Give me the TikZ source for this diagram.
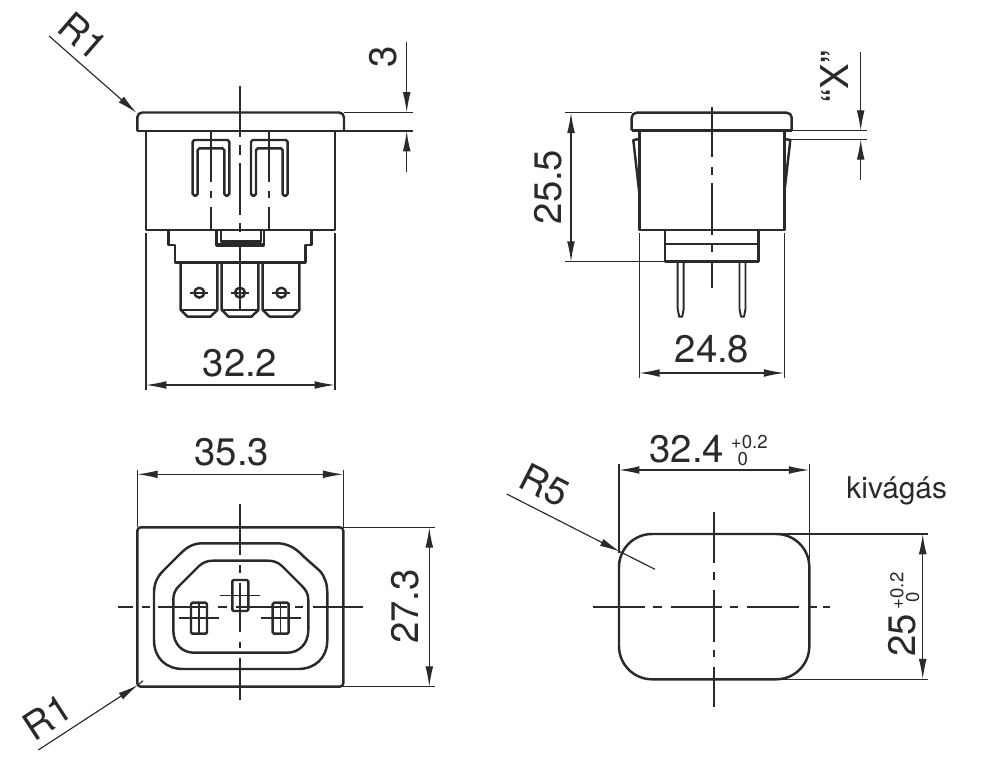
\documentclass[tikz,border=0pt]{standalone}
\usepackage{fontspec}
\setmainfont{TeX Gyre Heros}
\usetikzlibrary{arrows.meta}
\definecolor{inkc}{HTML}{2A2A2A}
\tikzset{
    part/.style={draw=inkc, line width=.7pt, line join=round},
    thinln/.style={draw=inkc, line width=.33pt},
    centerln/.style={draw=inkc, line width=.5pt},
    dimln/.style={draw=inkc, line width=.33pt, {Latex[length=5.8pt,width=2.2pt]}-{Latex[length=5.8pt,width=2.2pt]}},
    leader/.style={draw=inkc, line width=.33pt, -{Latex[length=5.8pt,width=2.2pt]}},
    dimtxt/.style={text=inkc, font=\fontsize{10.9}{12}\selectfont, inner sep=0pt},
    tol/.style={text=inkc, font=\fontsize{5.3}{6}\selectfont, inner sep=0pt},
}
\begin{document}
\begin{tikzpicture}[x=.01cm, y=-.01cm]
    \useasboundingbox (0,0) rectangle (1000,761);

    % Front view, flange and body
    \draw[part, rounded corners=1.4pt] (137.3,131) -- (137.3,112.5) -- (344,112.5) -- (344,131);
    \draw[part] (137.3,131) -- (344,131);
    \draw[part] (146,131) rectangle (335,230);
    % Front view, contacts
    \foreach \dx in {0,58.3}{
        \draw[part, rounded corners=.5pt, shift={(\dx,0)}] (192.7,195.7) -- (192.7,140) -- (229.3,140) -- (229.3,195.7) -- (224.3,195.7) -- (224.3,148.3) -- (197.7,148.3) -- (197.7,195.7) -- cycle;
    }
    % Front view, terminal block
    \draw[part] (168.3,230) -- (168.3,245) -- (175,245) -- (175,262.3) -- (305.7,262.3) -- (305.7,245) -- (311.7,245) -- (311.7,230);
    \draw[part] (216.7,230) -- (216.7,245.5) -- (264,245.5) -- (264,230);
    \draw[part] (221,230) -- (221,241.5) -- (261,241.5) -- (261,230);
    \draw[part, line width=1pt] (216.7,245) -- (264,245);
    % Front view, blades
    \foreach \bx/\hx in {180.7/199.3, 221.7/240, 262.7/281.3}{
        \draw[part] (\bx,262.3) -- (\bx,310) -- (\bx+7,316.7) -- (\bx+29.7,316.7) -- (\bx+36.7,310) -- (\bx+36.7,262.3);
        \draw[part] (\bx+1,310) -- (\bx+35.7,310);
        \draw[part] (\hx,292.7) circle (1.4pt);
        \draw[centerln] (\hx-9,292.7) -- (\hx+9,292.7);
    }
    % Front view, center lines
    \foreach \ya/\yb in {86/137, 145/155, 163/215, 223/232, 242/310}{
        \draw[centerln] (240,\ya) -- (240,\yb);
    }
    \foreach \x in {211,269}{
        \draw[centerln] (\x,131) -- (\x,182);
        \draw[centerln] (\x,191) -- (\x,198);
        \draw[centerln] (\x,207) -- (\x,230);
    }
    % Front view, dimensions
    \draw[thinln] (146,233) -- (146,390);
    \draw[thinln] (335,233) -- (335,390);
    \draw[dimln] (146,385) -- (335,385);
    \node[dimtxt] (lblwa) at (240,363) {32.2};
    \draw[thinln] (344,112.5) -- (412.7,112.5);
    \draw[thinln] (344,131) -- (412.7,131);
    \draw[leader] (406.7,41.7) -- (406.7,112.5);
    \draw[leader] (406.7,171.7) -- (406.7,131);
    \node[dimtxt, rotate=90] (lblflange) at (382.7,57) {3};
    \draw[leader] (49,36) -- (136.7,113);
    \node[dimtxt, rotate=-41] (lblra) at (83,36) {R1};

    % Side view, flange and body
    \draw[part, rounded corners=1.4pt] (631.7,130.7) -- (631.7,112.7) -- (791.7,112.7) -- (791.7,130.7);
    \draw[part] (631.7,130.7) -- (791.7,130.7);
    \draw[part] (639.3,130.7) rectangle (784.3,230);
    % Side view, clips
    \draw[part] (639.3,139) -- (633.3,140) -- (639.3,193);
    \draw[part] (784.3,139) -- (790.3,140) -- (784.3,193);
    % Side view, base and pins
    \draw[part] (665,230) rectangle (758.3,261.7);
    \draw[part] (665,244) -- (758.3,244);
    \foreach \px in {677.7,739.5}{
        \draw[part, line width=.55pt] (\px,261.7) -- (\px,309) -- (\px+1.5,316.7) -- (\px+4.5,316.7) -- (\px+6,309) -- (\px+6,261.7);
    }
    % Side view, center line
    \foreach \ya/\yb in {106.7/156.7, 166.7/175, 183/235, 245/251.7, 263.3/288.3}{
        \draw[centerln] (711.7,\ya) -- (711.7,\yb);
    }
    % Side view, dimensions
    \draw[thinln] (639.3,233) -- (639.3,378);
    \draw[thinln] (784.3,233) -- (784.3,378);
    \draw[dimln] (639.3,373) -- (784.3,373);
    \node[dimtxt] (lblwb) at (712,349) {24.8};
    \draw[thinln] (565,112.7) -- (631.7,112.7);
    \draw[thinln] (565,261.7) -- (665,261.7);
    \draw[dimln] (571,112.7) -- (571,261.7);
    \node[dimtxt, rotate=90] (lblh) at (548,187) {25.5};
    \draw[thinln] (791.7,130.7) -- (866.7,130.7);
    \draw[thinln] (790.3,139.3) -- (866.7,139.3);
    \draw[leader] (860.7,51.7) -- (860.7,130.7);
    \draw[leader] (860.7,180) -- (860.7,139.3);
    \node[dimtxt, rotate=90] (lblx) at (835,76.7) {“X”};

    % Rear view, plate
    \draw[part, rounded corners=1pt] (137.3,527.3) rectangle (343.3,686.7);
    % Rear view, socket outlines
    \draw[part] (154,593) .. controls (154,584) and (157,577) .. (163,571) -- (180,554)
        .. controls (187,547) and (193,543.3) .. (203,543.3) -- (277,543.3)
        .. controls (287,543.3) and (296,548) .. (303,556) -- (320,571)
        .. controls (325,577) and (327.3,584) .. (327.3,593) -- (327.3,640)
        .. controls (327.3,658) and (315,669) .. (298,669) -- (183,669)
        .. controls (166,669) and (154,658) .. (154,640) -- cycle;
    \draw[part] (173.3,600) .. controls (173.3,594) and (175,590) .. (179,586) -- (199,566)
        .. controls (203,562.5) and (207,560.7) .. (213,560.7) -- (268,560.7)
        .. controls (274,560.7) and (278,562.5) .. (282,566) -- (302,586)
        .. controls (306,590) and (308.3,594) .. (308.3,600) -- (308.3,630)
        .. controls (308.3,644) and (299,652.7) .. (287,652.7) -- (194,652.7)
        .. controls (182,652.7) and (173.3,644) .. (173.3,630) -- cycle;
    % Rear view, pins
    \foreach \px/\py in {191/602.7, 272.7/602.7, 232.3/580}{
        \draw[part, rounded corners=.4pt] (\px,\py) rectangle ++(16,31);
        \draw[centerln] (\px-12,\py+15.6) -- (\px+28,\py+15.6);
    }
    \draw[thinln] (199,602.7) -- (199,633.7);
    \draw[thinln] (280.7,602.7) -- (280.7,633.7);
    % Rear view, center lines
    \foreach \ya/\yb in {504/555, 565/573.3, 583/632, 641.7/648, 658/700}{
        \draw[centerln] (240,\ya) -- (240,\yb);
    }
    \foreach \xa/\xb in {118/133, 142/150, 158/207, 218/227, 236/287, 295/303, 313/363}{
        \draw[centerln] (\xa,606.7) -- (\xb,606.7);
    }
    % Rear view, dimensions
    \draw[thinln] (137.3,470) -- (137.3,527.3);
    \draw[thinln] (343.3,470) -- (343.3,527.3);
    \draw[dimln] (137.3,474.3) -- (343.3,474.3);
    \node[dimtxt] (lblwc) at (231.7,451.7) {35.3};
    \draw[thinln] (343.3,527.3) -- (435,527.3);
    \draw[thinln] (343.3,686.7) -- (435,686.7);
    \draw[dimln] (429.3,527.3) -- (429.3,686.7);
    \node[dimtxt, rotate=90] (lblhc) at (405,606.7) {27.3};
    \draw[leader] (38.3,750) -- (138,685);
    \draw[thinln] (138,685) -- (143,680.7);
    \node[dimtxt, rotate=33] (lblrb) at (47,717) {R1};

    % Cut-out
    \draw[part, rounded corners=9.4pt] (619,534) rectangle (809.3,679.3);
    \foreach \ya/\yb in {511.7/563, 571.7/580, 590/641.7, 650/657, 666.7/706.7}{
        \draw[centerln] (714.3,\ya) -- (714.3,\yb);
    }
    \foreach \xa/\xb in {593/645, 652.7/661.7, 670.7/721.7, 730/738, 747.3/799, 808/816.7, 823/830}{
        \draw[centerln] (\xa,607.3) -- (\xb,607.3);
    }
    % Cut-out, dimensions
    \draw[thinln] (619,464) -- (619,553);
    \draw[thinln] (809.3,464) -- (809.3,560);
    \draw[dimln] (619,470) -- (809.3,470);
    \node[dimtxt] (lblwd) at (686.7,449) {32.4};
    \node[tol] (lbltolwa) at (749.3,442.5) {+0.2};
    \node[tol] (lbltolwb) at (742.7,459) {0};
    \draw[thinln] (780,534) -- (928.3,534);
    \draw[thinln] (780,679.3) -- (928.3,679.3);
    \draw[dimln] (922.7,534) -- (922.7,679.3);
    \node[dimtxt, rotate=90] (lblhd) at (902,635) {25};
    \node[tol, rotate=90] (lbltolha) at (897,591) {+0.2};
    \node[tol, rotate=90] (lbltolhb) at (912.6,597) {0};
    \draw[leader] (506.7,494) -- (620,551.7);
    \draw[thinln] (620,551.7) -- (655,569.3);
    \node[dimtxt, rotate=-27] (lblrc) at (545,485) {R5};
    \node[text=inkc, font=\fontsize{8.5}{10}\selectfont, inner sep=0pt] (lblcut) at (896.7,491) {kivágás};
\end{tikzpicture}
\end{document}
